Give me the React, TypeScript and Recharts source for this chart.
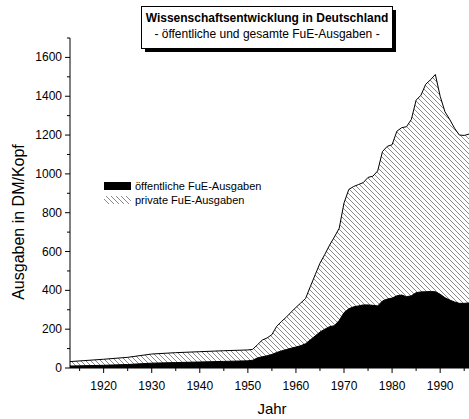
import { AreaChart, Area, XAxis, YAxis } from "recharts";

const years = [
  1913, 1920, 1925, 1930, 1935, 1940, 1945, 1950, 1951, 1952, 1953, 1954, 1955, 1956, 1957, 1958, 1959, 1960,
  1961, 1962, 1963, 1964, 1965, 1966, 1967, 1968, 1969, 1970, 1971, 1972, 1973, 1974, 1975, 1976, 1977, 1978,
  1979, 1980, 1981, 1982, 1983, 1984, 1985, 1986, 1987, 1988, 1989, 1990, 1991, 1992, 1993, 1994, 1995, 1996,
];

// gesamte FuE-Ausgaben (DM/Kopf)
const totalSpending = [
  33, 45, 55, 72, 79, 84, 89, 93, 96, 120, 144, 155, 172, 215, 240, 262, 288, 312,
  335, 358, 420, 480, 540, 585, 633, 675, 720, 850, 920, 935, 945, 955, 982, 988, 1015, 1115,
  1142, 1150, 1220, 1238, 1243, 1280, 1380, 1405, 1462, 1485, 1512, 1400, 1320, 1280, 1235, 1200, 1198, 1205,
];

// öffentliche FuE-Ausgaben (DM/Kopf)
const publicSpending = [
  10, 14, 18, 25, 28, 31, 34, 37, 40, 52, 58, 63, 70, 80, 88, 95, 102, 108,
  115, 125, 145, 165, 185, 200, 213, 218, 245, 285, 305, 315, 320, 325, 325, 323, 320, 345,
  355, 360, 372, 376, 367, 372, 388, 392, 393, 394, 393, 380, 362, 350, 340, 333, 333, 335,
];

const xTicks = [1915, 1920, 1925, 1930, 1935, 1940, 1945, 1950, 1955, 1960, 1965, 1970, 1975, 1980, 1985, 1990, 1995];
const yTicks = [0, 100, 200, 300, 400, 500, 600, 700, 800, 900, 1000, 1100, 1200, 1300, 1400, 1500, 1600, 1700];

const data = years.map((year, i) => ({ year, total: totalSpending[i], public: publicSpending[i] }));

const FONT = "'Liberation Sans', Arial, sans-serif";

function XTick(props: any) {
  const { x, y, payload } = props;
  const major = payload.value % 10 === 0;
  return (
    <g>
      <line x1={x} y1={y} x2={x} y2={y + (major ? 5 : 3)} stroke="#000" />
      {major && (
        <text x={x} y={y + 22} textAnchor="middle" fontSize={12} fontFamily={FONT} fill="#000">
          {payload.value}
        </text>
      )}
    </g>
  );
}

function YTick(props: any) {
  const { x, y, payload } = props;
  const major = payload.value % 200 === 0 && payload.value <= 1600;
  return (
    <g>
      <line x1={x} y1={y} x2={x - (major ? 5 : 3)} y2={y} stroke="#000" />
      {major && (
        <text x={x - 8} y={y + 4} textAnchor="end" fontSize={12} fontFamily={FONT} fill="#000">
          {payload.value}
        </text>
      )}
    </g>
  );
}

export default function App() {
  return (
    <div style={{ position: "absolute", left: 0, top: 0, width: 469, height: 419, background: "#fff", overflow: "hidden" }}>
      <AreaChart width={469} height={419} data={data} margin={{ top: 38, right: 0, bottom: 0, left: 0 }}>
        <defs>
          <pattern id="hatch" width="5" height="5" patternUnits="userSpaceOnUse">
            <path d="M0,0 L5,5 M-1,4 L1,6 M4,-1 L6,1" stroke="#8a8a8a" strokeWidth={1} />
          </pattern>
        </defs>
        <XAxis
          dataKey="year"
          type="number"
          domain={[1913, 1996]}
          ticks={xTicks}
          interval={0}
          height={51}
          tickSize={0}
          tickMargin={0}
          tickLine={false}
          axisLine={{ stroke: "#000" }}
          tick={<XTick />}
        />
        <YAxis
          type="number"
          domain={[0, 1700]}
          ticks={yTicks}
          interval={0}
          width={70}
          tickSize={0}
          tickMargin={0}
          tickLine={false}
          axisLine={{ stroke: "#000" }}
          tick={<YTick />}
        />
        <Area
          type="linear"
          dataKey="total"
          stroke="#000"
          strokeWidth={1}
          fill="url(#hatch)"
          fillOpacity={1}
          isAnimationActive={false}
        />
        <Area
          type="linear"
          dataKey="public"
          stroke="#000"
          strokeWidth={1}
          fill="#000"
          fillOpacity={1}
          isAnimationActive={false}
        />
      </AreaChart>
      <svg width={469} height={419} style={{ position: "absolute", left: 0, top: 0, pointerEvents: "none" }}>
        <defs>
          <pattern id="hatchLegend" width="5" height="5" patternUnits="userSpaceOnUse">
            <path d="M0,0 L5,5 M-1,4 L1,6 M4,-1 L6,1" stroke="#8a8a8a" strokeWidth={1} />
          </pattern>
        </defs>
        {/* Titelbox mit Schatten */}
        <rect x={145} y={10} width={251} height={42} fill="#000" />
        <rect x={141.5} y={6.5} width={251} height={42} fill="#fff" stroke="#000" />
        <text x={267} y={22} textAnchor="middle" fontSize={12} fontWeight="bold" fontFamily={FONT}>
          Wissenschaftsentwicklung in Deutschland
        </text>
        <text x={267} y={38} textAnchor="middle" fontSize={12} fontFamily={FONT}>
          - öffentliche und gesamte FuE-Ausgaben -
        </text>
        {/* Legende */}
        <rect x={104} y={182} width={27} height={8} fill="#000" />
        <text x={135} y={190} fontSize={11} fontFamily={FONT}>öffentliche FuE-Ausgaben</text>
        <rect x={104} y={196} width={27} height={8} fill="url(#hatchLegend)" />
        <text x={135} y={204} fontSize={11} fontFamily={FONT}>private FuE-Ausgaben</text>
        {/* Achsentitel */}
        <text x={24} y={222} textAnchor="middle" fontSize={16} fontFamily={FONT} transform="rotate(-90 24 222)">
          Ausgaben in DM/Kopf
        </text>
        <text x={272} y={414} textAnchor="middle" fontSize={15} fontFamily={FONT}>
          Jahr
        </text>
      </svg>
    </div>
  );
}
